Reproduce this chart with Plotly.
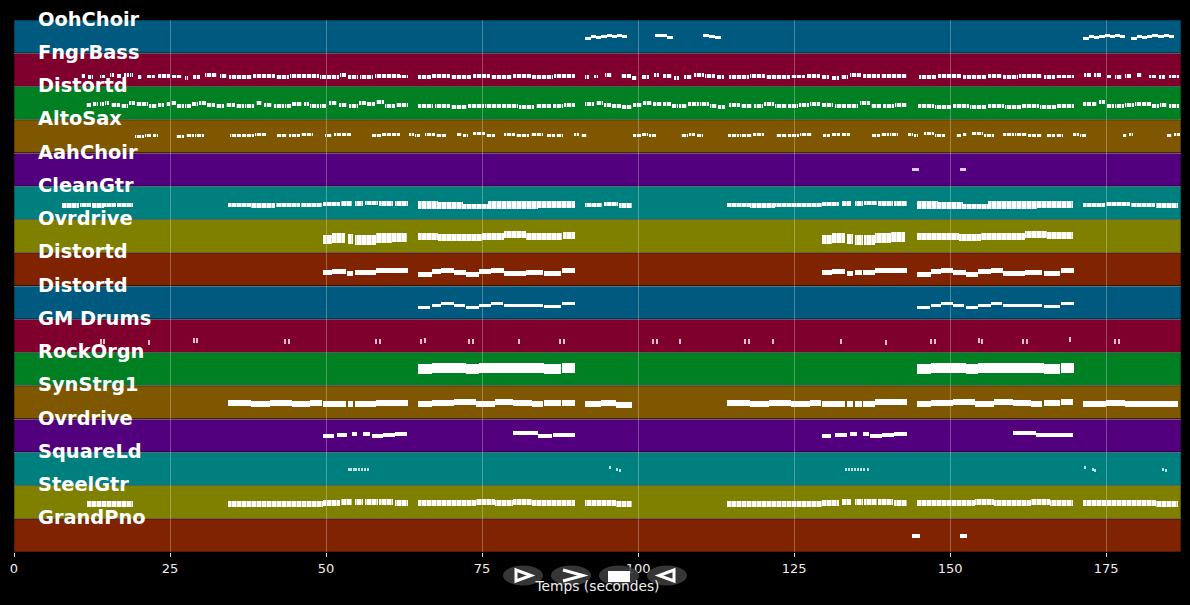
import plotly.graph_objects as go

# pistes du morceau, de haut en bas
track_names = ['OohChoir', 'FngrBass', 'Distortd', 'AltoSax', 'AahChoir', 'CleanGtr', 'Ovrdrive', 'Distortd',
               'Distortd', 'GM Drums', 'RockOrgn', 'SynStrg1', 'Ovrdrive', 'SquareLd', 'SteelGtr', 'GrandPno']
band_colors = ['#00597f', '#7f002d', '#007f23', '#7f5700', '#53007f', '#007f7f', '#7f7f00', '#7f2300',
               '#00597f', '#7f002d', '#007f23', '#7f5700', '#53007f', '#007f7f', '#7f7f00', '#7f2300']
x_ticks = [0, 25, 50, 75, 100, 125, 150, 175]

# notes : debut, fin (secondes), position verticale dans la piste (0 = haut, 1 = bas)
ooh_start = [91.5, 92.4, 93.2, 94.1, 95.0, 95.8, 96.7, 97.5, 102.7, 103.6, 104.6, 110.4, 111.3, 112.3,
             171.3, 172.2, 173.0, 173.9, 174.8, 175.6, 176.5, 177.3, 179.0, 179.9, 180.7, 181.6, 182.4, 183.3, 184.2, 185.0]
ooh_end = [92.4, 93.2, 94.1, 95.0, 95.8, 96.7, 97.5, 98.3, 103.6, 104.6, 105.6, 111.3, 112.3, 113.3,
           172.2, 173.0, 173.9, 174.8, 175.6, 176.5, 177.3, 178.0, 179.9, 180.7, 181.6, 182.4, 183.3, 184.2, 185.0, 185.8]
ooh_y = [.56, .50, .54, .50, .47, .50, .46, .50, .47, .48, .52, .47, .49, .52,
         .56, .50, .54, .50, .47, .50, .46, .50, .56, .50, .54, .50, .47, .50, .46, .50]

bass_start = [10.7, 11.9, 13.8, 15.4, 16.5, 17.6, 18.6, 19.9, 21.3, 23.1, 25.3, 27.4, 28.7, 30.6, 33.0,
              34.5, 38.3, 42.0, 44.2, 49.0, 52.2, 53.5, 55.5, 57.9, 61.9,
              64.7, 67.0, 70.0, 73.5, 76.5, 80.0, 83.0, 86.5,
              91.5, 93.0, 94.7, 97.3, 99.0, 100.6, 102.5, 104.0, 105.8, 107.4, 109.0, 110.8, 112.6,
              114.5, 118.0, 120.5, 124.5, 127.0, 129.5, 131.0, 132.5, 134.0, 136.0, 139.0,
              145.0, 148.0, 152.0, 156.0, 158.5, 161.0, 165.0, 167.0,
              171.5, 173.0, 175.0, 176.5, 178.0, 180.0, 181.8, 183.4, 185.0]
bass_end = [11.4, 12.7, 14.6, 16.0, 17.1, 18.4, 19.1, 20.5, 22.6, 25.0, 26.9, 27.9, 29.8, 32.5, 34.1,
            38.2, 41.9, 44.1, 48.9, 52.0, 53.2, 55.2, 57.6, 61.8, 63.1,
            66.8, 69.8, 73.3, 76.3, 79.8, 82.8, 86.3, 89.9,
            92.2, 93.6, 95.8, 98.8, 99.8, 101.8, 103.4, 105.5, 106.6, 108.6, 110.6, 112.4, 113.8,
            117.8, 120.3, 124.3, 126.8, 129.2, 130.6, 132.2, 133.6, 135.8, 138.8, 143.1,
            147.8, 151.8, 155.8, 158.3, 160.8, 164.8, 166.8, 169.8,
            172.6, 174.2, 175.8, 177.6, 179.0, 180.8, 183.0, 184.4, 186.6]
bass_y = [.68, .72, .70, .66, .68, .66, .66, .72, .70, .68, .70, .74, .72, .66, .68,
          .72, .68, .72, .68, .72, .66, .72, .72, .69, .70,
          .72, .68, .72, .69, .72, .69, .72, .68,
          .72, .70, .66, .68, .74, .72, .66, .68, .74, .72, .66, .68, .72,
          .72, .68, .72, .70, .68, .72, .74, .72, .66, .68, .68,
          .72, .68, .72, .68, .72, .68, .72, .70,
          .66, .66, .70, .72, .68, .66, .70, .72, .70]

dist1_start = [11.5, 12.6, 13.7, 14.6, 15.5, 17.2, 18.4, 19.6, 21.7, 23.1, 24.3, 25.2, 26.1, 27.4, 28.6, 29.7, 31.0, 32.4,
               33.9, 35.6, 37.0, 38.7, 40.0, 41.6, 43.4, 44.6, 46.4, 47.5, 49.0, 50.4, 52.0, 53.6, 55.3, 56.6, 58.0, 59.5, 61.2,
               64.7, 67.4, 70.1, 72.8, 75.5, 78.2, 80.9, 83.6, 86.3, 88.2,
               91.5, 93.2, 94.6, 95.8, 97.4, 99.2, 100.8, 102.4, 104.0, 105.4, 106.6, 108.0, 110.0, 111.6, 112.8,
               114.5, 116.5, 118.5, 120.2, 122.0, 124.0, 125.8, 127.6, 129.5, 131.5, 133.5, 135.5, 137.4, 139.2, 141.2,
               144.8, 147.6, 150.4, 153.2, 156.0, 158.8, 161.6, 164.4, 167.2,
               171.3, 172.8, 173.8, 175.0, 176.4, 178.0, 179.6, 180.8, 182.4, 183.6, 185.0]
dist1_end = [12.4, 13.5, 14.4, 15.3, 17.0, 18.2, 19.4, 21.5, 22.9, 24.1, 25.0, 25.9, 27.2, 28.4, 29.5, 30.8, 32.2, 33.7,
             35.4, 36.8, 38.5, 39.8, 41.4, 43.2, 44.4, 46.2, 47.3, 48.8, 50.2, 51.8, 53.4, 55.1, 56.4, 57.8, 59.3, 61.0, 63.1,
             67.2, 69.9, 72.6, 75.3, 78.0, 80.7, 83.4, 86.1, 88.0, 89.9,
             93.0, 94.4, 95.6, 97.2, 99.0, 100.6, 102.2, 103.8, 105.2, 106.4, 107.8, 109.8, 111.4, 112.6, 114.0,
             116.3, 118.3, 120.0, 121.8, 123.8, 125.6, 127.4, 129.2, 131.3, 133.3, 135.3, 137.2, 139.0, 141.0, 143.1,
             147.4, 150.2, 153.0, 155.8, 158.6, 161.4, 164.2, 167.0, 169.8,
             172.6, 173.6, 174.8, 176.2, 177.8, 179.4, 180.6, 182.2, 183.4, 184.8, 186.6]
dist1_y = [.55, .53, .54, .50, .56, .58, .50, .52, .58, .55, .52, .50, .58, .58, .52, .50, .56, .58,
           .56, .60, .58, .50, .56, .60, .58, .52, .54, .60, .58, .50, .56, .60, .50, .52, .48, .60, .56,
           .58, .60, .62, .60, .58, .60, .62, .60, .60, .56,
           .52, .50, .56, .60, .62, .56, .50, .52, .54, .60, .58, .54, .52, .58, .62,
           .56, .60, .58, .52, .58, .60, .56, .52, .56, .60, .58, .50, .60, .60, .56,
           .58, .62, .60, .62, .60, .62, .60, .62, .58,
           .52, .54, .48, .60, .58, .56, .52, .54, .60, .56, .58]

alto_start = [19.4, 21.0, 22.2, 26.0, 27.5, 29.0, 34.6, 36.6, 38.6, 42.1, 44.0, 46.0, 49.8, 51.2, 52.6, 57.4, 59.0, 60.6,
              63.3, 64.3, 65.9, 67.7, 71.0, 72.0, 73.6, 75.6, 78.5, 80.5, 82.8, 85.4, 86.9, 89.7, 90.8,
              99.2, 100.6, 101.8, 106.9, 108.2, 109.4, 114.4, 116.4, 118.4, 122.1, 124.0, 126.0,
              129.6, 131.0, 132.6, 137.5, 139.0, 140.4, 143.3, 144.2, 145.8, 147.6, 151.0, 152.0,
              153.5, 155.4, 158.5, 160.4, 162.5, 164.0, 165.5, 167.0, 169.7, 170.8, 177.7, 178.6, 184.8, 185.8]
alto_end = [20.8, 22.0, 23.1, 27.3, 28.8, 30.4, 36.4, 38.4, 40.4, 43.8, 45.8, 47.9, 51.0, 52.4, 54.0, 58.8, 60.4, 61.9,
            64.1, 65.1, 67.5, 69.2, 71.8, 72.8, 75.4, 77.1, 80.3, 82.6, 84.8, 86.7, 88.0, 90.6, 91.8,
            100.4, 101.6, 102.9, 108.0, 109.2, 110.4, 116.2, 118.2, 120.2, 123.8, 125.8, 127.9,
            130.8, 132.4, 134.0, 138.8, 140.2, 141.7, 144.0, 144.9, 147.4, 149.2, 151.8, 152.7,
            155.2, 157.0, 160.2, 162.3, 163.8, 164.7, 166.8, 168.1, 170.6, 171.8, 178.4, 179.3, 185.6, 186.9]
alto_y = [.50, .46, .47, .49, .47, .46, .47, .47, .44, .47, .48, .45, .46, .44, .44, .47, .45, .44,
          .44, .48, .44, .46, .44, .47, .42, .46, .43, .46, .44, .46, .46, .43, .47,
          .48, .44, .48, .47, .43, .47, .48, .47, .44, .47, .47, .45, .46, .44, .44, .47, .45, .44,
          .44, .48, .42, .46, .47, .44, .42, .46, .44, .44, .46, .46, .46, .48, .44, .46, .47, .44, .47, .45]

aah_start = [143.9, 151.6]
aah_end = [145.0, 152.6]
aah_y = [.51, .51]

clean_start = [7.7, 10.5, 12.5, 14.5, 16.5, 34.3, 38.0, 42.0, 46.0, 49.5, 52.4, 54.7, 56.2, 58.5, 61.0,
               64.7, 64.7, 68.0, 72.0, 76.0, 76.0, 80.0, 84.0, 84.0, 91.5, 94.5, 97.0,
               114.3, 118.0, 122.0, 126.0, 129.5, 132.6, 134.7, 136.2, 138.5, 141.0,
               144.7, 144.7, 148.0, 152.0, 156.0, 156.0, 160.0, 164.0, 164.0, 171.3, 175.0, 179.0, 183.0]
clean_end = [10.4, 12.4, 14.4, 16.4, 19.1, 37.9, 41.9, 45.9, 49.4, 52.2, 54.2, 56.0, 58.3, 60.8, 63.1,
             68.0, 72.0, 72.0, 76.0, 80.0, 84.0, 84.0, 89.9, 89.9, 94.3, 96.8, 99.0,
             117.9, 121.9, 125.9, 129.4, 132.2, 134.2, 136.0, 138.3, 140.8, 143.1,
             148.0, 152.0, 152.0, 156.0, 160.0, 164.0, 164.0, 169.7, 169.7, 174.9, 178.9, 182.9, 186.5]
clean_y = [.58, .56, .58, .56, .56, .56, .58, .56, .56, .54, .52, .52, .50, .52, .52,
           .52, .61, .54, .61, .52, .61, .52, .50, .60, .56, .54, .58,
           .56, .58, .56, .56, .54, .52, .52, .50, .52, .52,
           .52, .61, .54, .61, .52, .61, .52, .50, .60, .56, .54, .56, .58]

over1_start = [49.5, 51.0, 53.5, 54.6, 56.0, 58.0, 60.5, 64.7, 68.0, 71.5, 75.0, 78.5, 82.0, 85.5, 88.0,
               129.5, 131.0, 133.5, 134.7, 136.2, 138.0, 140.5, 144.7, 148.0, 151.5, 155.0, 158.5, 162.0, 165.5, 168.0,
               49.5, 51.0, 53.5, 54.6, 56.0, 58.0, 60.5, 129.5, 131.0, 133.5, 134.7, 136.2, 138.0, 140.5]
over1_end = [51.0, 53.1, 54.4, 56.0, 58.0, 60.5, 63.0, 68.0, 71.5, 75.0, 78.5, 82.0, 85.5, 87.8, 89.9,
             131.0, 133.1, 134.4, 136.0, 138.0, 140.5, 142.8, 148.0, 151.5, 155.0, 158.5, 162.0, 165.5, 168.0, 169.7,
             51.0, 53.1, 54.4, 56.0, 58.0, 60.5, 63.0, 131.0, 133.1, 134.4, 136.0, 138.0, 140.5, 142.8]
over1_y = [.56, .50, .53, .56, .56, .50, .50, .52, .54, .54, .50, .44, .50, .52, .48,
           .56, .50, .53, .56, .56, .50, .48, .50, .52, .54, .52, .50, .44, .48, .48,
           .64, .60, .64, .66, .66, .60, .58, .64, .60, .64, .66, .66, .60, .56]

dist2_start = [49.5, 51.0, 53.4, 54.7, 56.0, 58.0, 60.3, 64.7, 66.9, 68.5, 70.5, 72.5, 74.5, 76.5, 78.5, 82.0, 85.0, 87.8,
               129.5, 131.0, 133.4, 134.7, 136.0, 138.0, 140.3, 144.7, 146.9, 148.5, 150.5, 152.5, 154.5, 156.5, 158.5, 162.0, 165.0, 167.8]
dist2_end = [51.0, 53.2, 54.4, 55.9, 58.0, 60.3, 63.1, 66.9, 68.5, 70.5, 72.5, 74.5, 76.5, 78.5, 82.0, 84.8, 87.6, 89.9,
             131.0, 133.2, 134.4, 135.9, 138.0, 140.3, 143.1, 146.9, 148.5, 150.5, 152.5, 154.5, 156.5, 158.5, 162.0, 164.8, 167.6, 169.9]
dist2_y = [.60, .56, .62, .60, .60, .54, .54, .66, .56, .54, .58, .66, .56, .54, .62, .60, .62, .54,
           .60, .56, .62, .60, .60, .54, .54, .66, .56, .54, .58, .66, .56, .54, .62, .60, .62, .54]

dist3_start = [64.7, 66.9, 68.5, 70.5, 72.5, 74.5, 76.5, 78.5, 82.0, 85.0, 87.8,
               144.7, 146.9, 148.5, 150.5, 152.5, 154.5, 156.5, 158.5, 162.0, 165.0, 167.8]
dist3_end = [66.7, 68.5, 70.5, 72.3, 74.5, 76.5, 78.3, 82.0, 84.8, 87.6, 89.9,
             146.7, 148.5, 150.5, 152.3, 154.5, 156.5, 158.3, 162.0, 164.8, 167.6, 169.9]
dist3_y = [.66, .60, .54, .60, .66, .60, .52, .60, .60, .62, .52,
           .66, .60, .54, .60, .66, .60, .52, .60, .60, .62, .52]

drum_start = [13.8, 14.4, 21.6, 28.7, 29.3, 43.4, 44.0, 58.0, 58.6, 65.2, 65.8, 72.8, 73.4, 80.8, 87.4, 88.0,
              102.3, 102.9, 106.6, 117.1, 117.7, 121.6, 132.4, 139.7, 146.9, 147.5, 154.5, 155.1, 161.6, 162.2, 169.2, 176.4, 177.0]
drum_end = [13.97, 14.57, 21.77, 28.87, 29.47, 43.57, 44.17, 58.17, 58.77, 65.37, 65.97, 72.97, 73.57, 80.97, 87.57, 88.17,
            102.47, 103.07, 106.77, 117.27, 117.87, 121.77, 132.57, 139.87, 147.07, 147.67, 154.67, 155.27, 161.77, 162.37, 169.37, 176.57, 177.17]
drum_y = [.66, .66, .70, .64, .64, .66, .68, .66, .66, .66, .64, .66, .66, .66, .66, .66,
          .66, .66, .66, .66, .66, .66, .66, .70, .66, .66, .64, .66, .66, .66, .62, .66, .66]

organ_start = [64.7, 66.9, 68.5, 70.5, 72.5, 74.5, 76.5, 78.5, 82.0, 85.0, 87.8,
               144.7, 146.9, 148.5, 150.5, 152.5, 154.5, 156.5, 158.5, 162.0, 165.0, 167.8]
organ_end = [66.9, 68.5, 70.5, 72.5, 74.5, 76.5, 78.5, 82.0, 85.0, 87.6, 89.9,
             146.9, 148.5, 150.5, 152.5, 154.5, 156.5, 158.5, 162.0, 165.0, 167.6, 169.9]
organ_y = [.50, .48, .47, .48, .50, .48, .47, .48, .48, .50, .47,
           .50, .48, .47, .48, .50, .48, .47, .48, .48, .50, .47]

strg_start = [34.3, 38.0, 41.0, 44.5, 47.5, 49.5, 51.0, 53.5, 54.7, 56.0, 58.0, 60.3,
              64.7, 67.0, 70.5, 74.0, 77.0, 80.0, 83.0, 85.0, 87.8, 91.5, 94.0, 96.5,
              114.3, 118.0, 121.0, 124.5, 127.5, 129.5, 131.0, 133.4, 134.7, 136.0, 138.0, 140.3,
              144.7, 147.0, 150.5, 154.0, 157.0, 160.0, 163.0, 165.0, 167.8, 171.3, 175.0, 178.0, 182.0]
strg_end = [38.0, 41.0, 44.5, 47.5, 49.3, 51.0, 53.2, 54.4, 55.9, 58.0, 60.3, 63.1,
            67.0, 70.5, 74.0, 77.0, 80.0, 83.0, 84.8, 87.6, 89.9, 94.0, 96.5, 99.0,
            118.0, 121.0, 124.5, 127.5, 129.3, 131.0, 133.2, 134.4, 135.9, 138.0, 140.3, 143.1,
            147.0, 150.5, 154.0, 157.0, 160.0, 163.0, 164.8, 167.6, 169.7, 175.0, 178.0, 182.0, 186.5]
strg_y = [.52, .54, .52, .54, .52, .54, .54, .56, .56, .54, .52, .52,
          .54, .52, .50, .54, .50, .52, .54, .52, .52, .54, .52, .58,
          .52, .54, .52, .54, .52, .54, .54, .56, .56, .54, .50, .50,
          .54, .52, .50, .54, .50, .52, .54, .52, .50, .56, .52, .56, .54]

over2_start = [49.5, 51.8, 54.2, 56.0, 57.4, 59.2, 61.1, 80.0, 84.0, 86.4,
               129.5, 131.6, 134.0, 136.1, 137.2, 139.1, 141.0, 160.0, 163.8]
over2_end = [51.3, 53.4, 55.0, 57.1, 59.2, 61.1, 62.9, 84.0, 86.2, 89.9,
             130.9, 133.4, 135.1, 137.0, 139.1, 141.0, 143.1, 163.8, 169.7]
over2_y = [.52, .48, .45, .45, .52, .48, .44, .43, .50, .47,
           .52, .48, .45, .45, .52, .48, .44, .43, .48]

square_start = [53.6, 54.0, 54.4, 54.8, 55.2, 55.7, 56.2, 56.7, 95.4, 96.6, 97.0,
                133.2, 133.7, 134.2, 134.7, 135.2, 135.7, 136.2, 136.7, 171.6, 172.8, 173.2, 184.0, 184.5]
square_end = [53.8, 54.2, 54.6, 55.0, 55.4, 55.9, 56.4, 56.9, 95.6, 96.8, 97.2,
              133.4, 133.9, 134.4, 134.9, 135.4, 135.9, 136.4, 136.9, 171.8, 173.0, 173.4, 184.2, 184.7]
square_y = [.53, .53, .53, .53, .53, .53, .53, .53, .45, .53, .55,
            .53, .53, .53, .53, .53, .53, .53, .53, .45, .53, .55, .53, .56]

steel_start = [11.7, 13.5, 15.5, 17.5, 34.3, 38.0, 42.0, 46.0, 49.5, 52.4, 54.7, 56.2, 58.5, 61.0,
               64.7, 68.0, 71.0, 74.0, 77.0, 80.0, 83.0, 86.0, 91.5, 94.0, 96.5,
               114.3, 118.0, 122.0, 126.0, 129.5, 132.6, 134.7, 136.2, 138.5, 141.0,
               144.7, 148.0, 151.0, 154.0, 157.0, 160.0, 163.0, 166.0, 171.3, 175.0, 179.0, 183.0]
steel_end = [13.5, 15.5, 17.5, 19.1, 38.0, 42.0, 46.0, 49.5, 52.2, 54.2, 56.0, 58.3, 60.8, 63.1,
             68.0, 71.0, 74.0, 77.0, 80.0, 83.0, 86.0, 89.9, 94.0, 96.5, 99.0,
             118.0, 122.0, 126.0, 129.5, 132.2, 134.2, 136.0, 138.3, 140.8, 143.1,
             148.0, 151.0, 154.0, 157.0, 160.0, 163.0, 166.0, 169.7, 175.0, 179.0, 183.0, 186.5]
steel_y = [.55, .56, .55, .56, .55, .56, .55, .56, .52, .51, .50, .50, .51, .52,
           .54, .52, .53, .51, .53, .51, .52, .52, .53, .54, .55,
           .55, .56, .55, .55, .52, .51, .50, .50, .51, .52,
           .54, .52, .53, .51, .53, .52, .51, .53, .52, .54, .54, .55]

piano_start = [143.9, 151.6]
piano_end = [145.2, 152.7]
piano_y = [.52, .52]

tracks = [(ooh_start, ooh_end, ooh_y), (bass_start, bass_end, bass_y), (dist1_start, dist1_end, dist1_y),
          (alto_start, alto_end, alto_y), (aah_start, aah_end, aah_y), (clean_start, clean_end, clean_y),
          (over1_start, over1_end, over1_y), (dist2_start, dist2_end, dist2_y), (dist3_start, dist3_end, dist3_y),
          (drum_start, drum_end, drum_y), (organ_start, organ_end, organ_y), (strg_start, strg_end, strg_y),
          (over2_start, over2_end, over2_y), (square_start, square_end, square_y), (steel_start, steel_end, steel_y),
          (piano_start, piano_end, piano_y)]

# epaisseur des notes par piste (pixels), et force des hachures qui imitent les notes serrees
note_px = [3, 3.5, 4, 3, 3, 4.5, 7, 5, 3, 5, 10, 6, 4, 3, 6, 4]
stripe = [0, .8, .75, .8, 0, .35, .25, 0, 0, 0, 0, 0, 0, 0, .4, 0]
note_opacity = [1, 1, 1, 1, .8, 1, 1, 1, 1, .75, 1, 1, 1, .75, 1, 1]

W, H = 1190, 605
ML, MR, MT, MB = 14, 9, 20, 53
row_px = (H - MT - MB) / 16

fig = go.Figure()

for i, (start, end, y) in enumerate(tracks):
    marker = dict(color='white', opacity=note_opacity[i], line=dict(width=0))
    if stripe[i]:
        marker['pattern'] = dict(shape='|', size=5, solidity=0.2, fgcolor=band_colors[i], bgcolor='white',
                                 fgopacity=stripe[i])
    fig.add_trace(go.Bar(
        base=start,
        x=[e - s for s, e in zip(start, end)],
        y=[i + v for v in y],
        width=note_px[i] / row_px,
        orientation='h',
        marker=marker,
        showlegend=False,
        name=track_names[i]))

shapes = []
for i, color in enumerate(band_colors):
    shapes.append(dict(type='rect', xref='x', yref='y', x0=0, x1=187, y0=i, y1=i + 1, layer='below',
                       fillcolor=color, line=dict(color='black', width=0.6)))

annotations = []
for i, name in enumerate(track_names):
    annotations.append(dict(x=3.55, y=i, xref='x', yref='y', text=name, showarrow=False, xanchor='left',
                            yanchor='middle', yshift=1,
                            font=dict(family='DejaVu Sans', size=19.4, color='white', weight='bold')))


# boutons du lecteur, places en pixels de la fenetre
def px(x):
    return (x - ML) / (W - ML - MR)


def py(y):
    return 1 - (y - MT) / (H - MT - MB)


def path(points, close=True):
    d = 'M ' + ' L '.join(f'{px(a):.5f} {py(b):.5f}' for a, b in points)
    return d + (' Z' if close else '')


for cx in [523, 571, 619, 667]:
    shapes.append(dict(type='circle', xref='paper', yref='paper', x0=px(cx - 20), x1=px(cx + 20),
                       y0=py(585.5), y1=py(565.5), fillcolor='rgba(64,64,64,0.85)', line=dict(width=0)))
white = dict(color='white', width=3)
shapes.append(dict(type='path', xref='paper', yref='paper', path=path([(516, 570), (531, 575.5), (516, 581)]), line=white))
shapes.append(dict(type='path', xref='paper', yref='paper', path=path([(563, 570), (583, 575.5), (563, 581)], False), line=white))
shapes.append(dict(type='rect', xref='paper', yref='paper', x0=px(608), x1=px(630), y0=py(582), y1=py(571),
                   fillcolor='white', line=dict(width=0)))
shapes.append(dict(type='path', xref='paper', yref='paper', path=path([(674, 570), (659, 575.5), (674, 581)]), line=white))

fig.update_layout(
    width=W, height=H,
    margin=dict(l=ML, r=MR, t=MT, b=MB),
    paper_bgcolor='black',
    plot_bgcolor='black',
    barmode='overlay',
    bargap=0,
    shapes=shapes,
    annotations=annotations,
    font=dict(family='DejaVu Sans', color='#eeeeee', size=13),
    xaxis=dict(range=[0, 187], tickvals=x_ticks, ticks='outside', ticklen=4, tickwidth=1, tickcolor='#dddddd',
               showgrid=True, gridcolor='rgba(255,255,255,0.28)', gridwidth=1, zeroline=False, showline=False,
               title=dict(text='Temps (secondes)', font=dict(size=13.8), standoff=6)),
    yaxis=dict(range=[16, 0], tickvals=list(range(17)), showticklabels=False, ticks='',
               showgrid=True, gridcolor='rgba(255,255,255,0.3)', gridwidth=1, zeroline=False, showline=False),
)

fig.write_html("out.html", config={'displayModeBar': False},
               post_script="document.body.style.margin='0';document.body.style.background='black';")
